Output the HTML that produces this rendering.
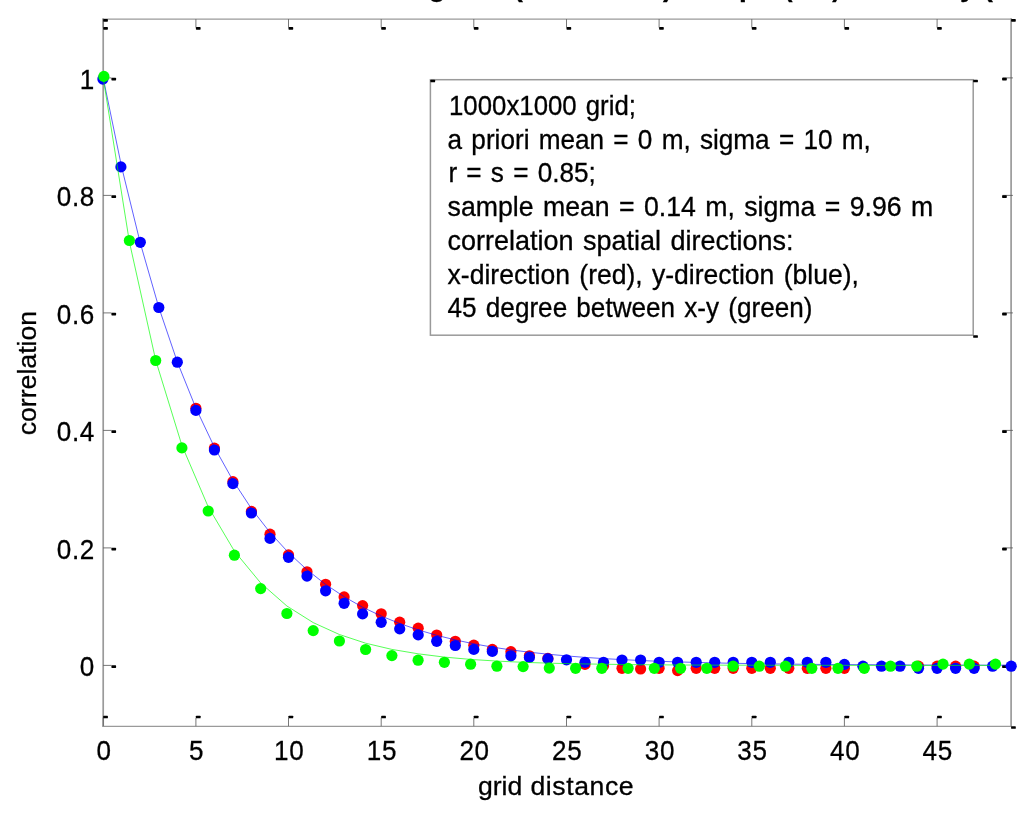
<!DOCTYPE html>
<html lang="en"><head><meta charset="utf-8"><title>correlation vs grid distance</title>
<style>html,body{margin:0;padding:0;background:#fff;}body{width:1024px;height:813px;overflow:hidden;position:relative;}svg{position:absolute;left:0;top:0;display:block;}text{font-family:"Liberation Sans",Arial,Helvetica,sans-serif;fill:#000;stroke:#000;stroke-width:0.3px;}.tk{font-size:28.5px;letter-spacing:0.75px;}.lb{font-size:25.9px;}.lg{font-size:26.8px;word-spacing:2px;}.tt{font-size:28px;font-weight:bold;}</style></head><body>
<svg width="1024" height="813" viewBox="0 0 1024 813">
<rect x="0" y="0" width="1024" height="813" fill="#fff"/>
<g class="tt">
<text x="41.1" y="-3.9">Correlation on the simulated grid</text>
<text x="513.6" y="-3.9">(1000x1000)</text>
<text x="682.9" y="-3.9">sample</text>
<text transform="translate(784 -3.9) scale(0.913 1)">(red)</text>
<text x="890" y="-3.9">theory</text>
<text x="983.6" y="-3.9">(blue)</text>
</g>
<g fill="none" stroke="#9a9a9a" stroke-linecap="square">
<line x1="103.2" y1="19.150000000000002" x2="1011.1" y2="19.150000000000002" stroke-width="1.35"/>
<line x1="103.2" y1="726.4000000000001" x2="1011.1" y2="726.4000000000001" stroke-width="1.35"/>
<line x1="103.2" y1="19.1" x2="103.2" y2="726.2" stroke-width="1.7"/>
<line x1="1011.1" y1="19.1" x2="1011.1" y2="726.2" stroke-width="1.7"/>
</g>
<g stroke="#555" stroke-width="0.8">
<line x1="103.2" y1="726.2" x2="103.2" y2="717.7"/>
<line x1="103.2" y1="19.1" x2="103.2" y2="27.6"/>
<line x1="195.9" y1="726.2" x2="195.9" y2="717.7"/>
<line x1="195.9" y1="19.1" x2="195.9" y2="27.6"/>
<line x1="288.5" y1="726.2" x2="288.5" y2="717.7"/>
<line x1="288.5" y1="19.1" x2="288.5" y2="27.6"/>
<line x1="381.2" y1="726.2" x2="381.2" y2="717.7"/>
<line x1="381.2" y1="19.1" x2="381.2" y2="27.6"/>
<line x1="473.8" y1="726.2" x2="473.8" y2="717.7"/>
<line x1="473.8" y1="19.1" x2="473.8" y2="27.6"/>
<line x1="566.5" y1="726.2" x2="566.5" y2="717.7"/>
<line x1="566.5" y1="19.1" x2="566.5" y2="27.6"/>
<line x1="659.1" y1="726.2" x2="659.1" y2="717.7"/>
<line x1="659.1" y1="19.1" x2="659.1" y2="27.6"/>
<line x1="751.8" y1="726.2" x2="751.8" y2="717.7"/>
<line x1="751.8" y1="19.1" x2="751.8" y2="27.6"/>
<line x1="844.4" y1="726.2" x2="844.4" y2="717.7"/>
<line x1="844.4" y1="19.1" x2="844.4" y2="27.6"/>
<line x1="937.1" y1="726.2" x2="937.1" y2="717.7"/>
<line x1="937.1" y1="19.1" x2="937.1" y2="27.6"/>
<line x1="103.2" y1="665.4" x2="111.5" y2="665.4"/>
<line x1="1012.9" y1="665.4" x2="1002.6" y2="665.4"/>
<line x1="103.2" y1="547.9" x2="111.5" y2="547.9"/>
<line x1="1012.9" y1="547.9" x2="1002.6" y2="547.9"/>
<line x1="103.2" y1="430.4" x2="111.5" y2="430.4"/>
<line x1="1012.9" y1="430.4" x2="1002.6" y2="430.4"/>
<line x1="103.2" y1="312.9" x2="111.5" y2="312.9"/>
<line x1="1012.9" y1="312.9" x2="1002.6" y2="312.9"/>
<line x1="103.2" y1="195.4" x2="111.5" y2="195.4"/>
<line x1="1012.9" y1="195.4" x2="1002.6" y2="195.4"/>
<line x1="103.2" y1="77.9" x2="111.5" y2="77.9"/>
<line x1="1012.9" y1="77.9" x2="1002.6" y2="77.9"/>
</g>
<g fill="#000">
<rect x="103.2" y="715.7" width="4.7" height="2.6" rx="0.6"/>
<rect x="103.2" y="27.1" width="4.7" height="2.6" rx="0.6"/>
<rect x="195.9" y="715.7" width="4.7" height="2.6" rx="0.6"/>
<rect x="195.9" y="27.1" width="4.7" height="2.6" rx="0.6"/>
<rect x="288.5" y="715.7" width="4.7" height="2.6" rx="0.6"/>
<rect x="288.5" y="27.1" width="4.7" height="2.6" rx="0.6"/>
<rect x="381.2" y="715.7" width="4.7" height="2.6" rx="0.6"/>
<rect x="381.2" y="27.1" width="4.7" height="2.6" rx="0.6"/>
<rect x="473.8" y="715.7" width="4.7" height="2.6" rx="0.6"/>
<rect x="473.8" y="27.1" width="4.7" height="2.6" rx="0.6"/>
<rect x="566.5" y="715.7" width="4.7" height="2.6" rx="0.6"/>
<rect x="566.5" y="27.1" width="4.7" height="2.6" rx="0.6"/>
<rect x="659.1" y="715.7" width="4.7" height="2.6" rx="0.6"/>
<rect x="659.1" y="27.1" width="4.7" height="2.6" rx="0.6"/>
<rect x="751.8" y="715.7" width="4.7" height="2.6" rx="0.6"/>
<rect x="751.8" y="27.1" width="4.7" height="2.6" rx="0.6"/>
<rect x="844.4" y="715.7" width="4.7" height="2.6" rx="0.6"/>
<rect x="844.4" y="27.1" width="4.7" height="2.6" rx="0.6"/>
<rect x="937.1" y="715.7" width="4.7" height="2.6" rx="0.6"/>
<rect x="937.1" y="27.1" width="4.7" height="2.6" rx="0.6"/>
<rect x="111.4" y="665.3" width="4.7" height="2.6" rx="0.6"/>
<rect x="1002.1" y="665.3" width="4.7" height="2.6" rx="0.6"/>
<rect x="111.4" y="547.8" width="4.7" height="2.6" rx="0.6"/>
<rect x="1002.1" y="547.8" width="4.7" height="2.6" rx="0.6"/>
<rect x="111.4" y="430.3" width="4.7" height="2.6" rx="0.6"/>
<rect x="1002.1" y="430.3" width="4.7" height="2.6" rx="0.6"/>
<rect x="111.4" y="312.8" width="4.7" height="2.6" rx="0.6"/>
<rect x="1002.1" y="312.8" width="4.7" height="2.6" rx="0.6"/>
<rect x="111.4" y="195.3" width="4.7" height="2.6" rx="0.6"/>
<rect x="1002.1" y="195.3" width="4.7" height="2.6" rx="0.6"/>
<rect x="111.4" y="77.8" width="4.7" height="2.6" rx="0.6"/>
<rect x="1002.1" y="77.8" width="4.7" height="2.6" rx="0.6"/>
<rect x="103.2" y="19.1" width="4.7" height="2.6" rx="0.6"/>
<rect x="1011.1" y="19.1" width="4.7" height="2.6" rx="0.6"/>
<rect x="1011.1" y="726.2" width="4.7" height="2.6" rx="0.6"/>
</g>
<g class="tk" text-anchor="middle">
<text transform="translate(104.0 760.4) scale(0.915 1)">0</text>
<text transform="translate(196.6 760.4) scale(0.915 1)">5</text>
<text transform="translate(289.2 760.4) scale(0.915 1)">10</text>
<text transform="translate(381.9 760.4) scale(0.915 1)">15</text>
<text transform="translate(474.6 760.4) scale(0.915 1)">20</text>
<text transform="translate(567.2 760.4) scale(0.915 1)">25</text>
<text transform="translate(659.9 760.4) scale(0.915 1)">30</text>
<text transform="translate(752.5 760.4) scale(0.915 1)">35</text>
<text transform="translate(845.2 760.4) scale(0.915 1)">40</text>
<text transform="translate(937.8 760.4) scale(0.915 1)">45</text>
</g>
<g class="tk" text-anchor="end">
<text transform="translate(95.0 676.0) scale(0.915 1)">0</text>
<text transform="translate(95.0 558.5) scale(0.915 1)">0.2</text>
<text transform="translate(95.0 441.0) scale(0.915 1)">0.4</text>
<text transform="translate(95.0 323.5) scale(0.915 1)">0.6</text>
<text transform="translate(95.0 206.0) scale(0.915 1)">0.8</text>
<text transform="translate(95.0 88.5) scale(0.915 1)">1</text>
</g>
<text class="lb" transform="translate(477.9 794.5) scale(1.028 1)" style="word-spacing:0.8px">grid <tspan style="letter-spacing:0.55px">distance</tspan></text>
<text class="lb" transform="translate(36.4 373.1) rotate(-90) scale(1.03 1)" text-anchor="middle">correlation</text>
<rect x="430.4" y="79.7" width="542.8" height="255.5" fill="#fff" stroke="#9a9a9a" stroke-width="1.5"/>
<g fill="#000">
<rect x="430.4" y="79.7" width="4.7" height="2.6" rx="0.6"/>
<rect x="973.2" y="79.7" width="4.7" height="2.6" rx="0.6"/>
<rect x="973.2" y="335.2" width="4.7" height="2.6" rx="0.6"/>
</g>
<g class="lg">
<text transform="translate(449.0 115.10) scale(0.9629 1)">1000x1000 grid;</text>
<text transform="translate(447.6 148.78) scale(0.9767 1)">a priori mean = 0 m, sigma = 10 m,</text>
<text transform="translate(448.4 182.46) scale(0.9768 1)">r = s = 0.85;</text>
<text transform="translate(447.6 216.14) scale(0.9955 1)">sample mean = 0.14 m, sigma = 9.96 m</text>
<text transform="translate(447.6 249.82) scale(1.0070 1)">correlation spatial directions:</text>
<text transform="translate(447.6 283.50) scale(0.9901 1)">x-direction (red), y-direction (blue),</text>
<text transform="translate(447.6 317.18) scale(0.9746 1)">45 degree between x-y (green)</text>
</g>
<g fill="#ff0000">
<circle cx="102.9" cy="79.1" r="4.699999999999999"/>
<circle cx="120.9" cy="166.9" r="4.699999999999999"/>
<circle cx="140.3" cy="242.3" r="4.699999999999999"/>
<circle cx="158.8" cy="307.5" r="4.699999999999999"/>
<circle cx="177.3" cy="362.2" r="4.699999999999999"/>
<circle cx="195.9" cy="408.3" r="5.6"/>
<circle cx="214.4" cy="448.1" r="5.6"/>
<circle cx="232.9" cy="481.7" r="5.6"/>
<circle cx="251.4" cy="511.4" r="5.6"/>
<circle cx="270.0" cy="534.2" r="5.6"/>
<circle cx="288.5" cy="554.9" r="5.6"/>
<circle cx="307.0" cy="571.8" r="5.6"/>
<circle cx="325.6" cy="584.3" r="5.6"/>
<circle cx="344.1" cy="596.9" r="5.6"/>
<circle cx="362.6" cy="605.6" r="5.6"/>
<circle cx="381.2" cy="613.8" r="5.6"/>
<circle cx="399.7" cy="622.2" r="5.6"/>
<circle cx="418.2" cy="628.2" r="5.6"/>
<circle cx="436.7" cy="635.0" r="5.6"/>
<circle cx="455.3" cy="641.3" r="5.6"/>
<circle cx="473.8" cy="645.2" r="5.6"/>
<circle cx="492.3" cy="649.4" r="5.6"/>
<circle cx="510.9" cy="651.7" r="5.6"/>
<circle cx="529.4" cy="655.8" r="5.6"/>
<circle cx="547.9" cy="658.4" r="5.6"/>
<circle cx="566.5" cy="659.8" r="4.699999999999999"/>
<circle cx="585.0" cy="664.4" r="5.6"/>
<circle cx="603.5" cy="665.9" r="5.6"/>
<circle cx="622.0" cy="668.3" r="5.6"/>
<circle cx="640.6" cy="669.0" r="5.6"/>
<circle cx="659.1" cy="668.3" r="5.6"/>
<circle cx="677.6" cy="670.6" r="5.6"/>
<circle cx="696.2" cy="668.3" r="5.6"/>
<circle cx="714.7" cy="668.3" r="5.6"/>
<circle cx="733.2" cy="668.3" r="5.6"/>
<circle cx="751.8" cy="668.3" r="5.6"/>
<circle cx="770.3" cy="668.3" r="5.6"/>
<circle cx="788.8" cy="668.3" r="5.6"/>
<circle cx="807.3" cy="668.3" r="5.6"/>
<circle cx="825.9" cy="668.3" r="5.6"/>
<circle cx="844.4" cy="668.3" r="5.6"/>
<circle cx="862.9" cy="666.2" r="4.699999999999999"/>
<circle cx="881.5" cy="666.2" r="4.699999999999999"/>
<circle cx="900.0" cy="666.2" r="4.699999999999999"/>
<circle cx="918.5" cy="666.2" r="5.6"/>
<circle cx="937.1" cy="666.2" r="5.6"/>
<circle cx="955.6" cy="666.2" r="5.6"/>
<circle cx="974.1" cy="666.2" r="5.6"/>
<circle cx="992.6" cy="666.2" r="4.699999999999999"/>
<circle cx="1011.2" cy="666.2" r="4.699999999999999"/>
</g>
<polyline fill="none" stroke="#0000ff" stroke-width="1" stroke-opacity="0.62" points="103.2,77.9 121.7,167.3 140.3,243.1 158.8,307.4 177.3,361.9 195.9,408.1 214.4,447.2 232.9,480.4 251.4,508.6 270.0,532.5 288.5,552.7 307.0,569.8 325.6,584.4 344.1,596.7 362.6,607.2 381.2,616.0 399.7,623.5 418.2,629.9 436.7,635.3 455.3,639.9 473.8,643.8 492.3,647.1 510.9,649.9 529.4,652.2 547.9,654.2 566.5,655.9 585.0,657.4 603.5,658.6 622.0,659.6 640.6,660.5 659.1,661.3 677.6,661.9 696.2,662.4 714.7,662.9 733.2,663.3 751.8,663.6 770.3,663.9 788.8,664.1 807.3,664.3 825.9,664.5 844.4,664.6 862.9,664.7 881.5,664.8 900.0,664.9 918.5,665.0 937.1,665.1 955.6,665.1 974.1,665.1 992.6,665.2 1011.2,665.2"/>
<g fill="#0000ff">
<circle cx="102.9" cy="79.1" r="5.6"/>
<circle cx="120.9" cy="166.9" r="5.6"/>
<circle cx="140.3" cy="242.3" r="5.6"/>
<circle cx="158.8" cy="307.5" r="5.6"/>
<circle cx="177.3" cy="362.2" r="5.6"/>
<circle cx="195.9" cy="410.4" r="5.6"/>
<circle cx="214.4" cy="450.0" r="5.6"/>
<circle cx="232.9" cy="483.6" r="5.6"/>
<circle cx="251.4" cy="513.0" r="5.6"/>
<circle cx="270.0" cy="538.4" r="5.6"/>
<circle cx="288.5" cy="557.3" r="5.6"/>
<circle cx="307.0" cy="576.1" r="5.6"/>
<circle cx="325.6" cy="590.8" r="5.6"/>
<circle cx="344.1" cy="603.3" r="5.6"/>
<circle cx="362.6" cy="613.9" r="5.6"/>
<circle cx="381.2" cy="622.3" r="5.6"/>
<circle cx="399.7" cy="628.9" r="5.6"/>
<circle cx="418.2" cy="634.9" r="5.6"/>
<circle cx="436.7" cy="641.3" r="5.6"/>
<circle cx="455.3" cy="645.5" r="5.6"/>
<circle cx="473.8" cy="649.4" r="5.6"/>
<circle cx="492.3" cy="651.4" r="5.6"/>
<circle cx="510.9" cy="655.8" r="5.6"/>
<circle cx="529.4" cy="657.4" r="5.6"/>
<circle cx="547.9" cy="658.9" r="5.6"/>
<circle cx="566.5" cy="659.8" r="5.6"/>
<circle cx="585.0" cy="662.3" r="5.6"/>
<circle cx="603.5" cy="662.3" r="5.6"/>
<circle cx="622.0" cy="660.0" r="5.6"/>
<circle cx="640.6" cy="660.0" r="5.6"/>
<circle cx="659.1" cy="662.3" r="5.6"/>
<circle cx="677.6" cy="662.3" r="5.6"/>
<circle cx="696.2" cy="662.3" r="5.6"/>
<circle cx="714.7" cy="662.3" r="5.6"/>
<circle cx="733.2" cy="662.3" r="5.6"/>
<circle cx="751.8" cy="662.3" r="5.6"/>
<circle cx="770.3" cy="662.3" r="5.6"/>
<circle cx="788.8" cy="662.3" r="5.6"/>
<circle cx="807.3" cy="662.3" r="5.6"/>
<circle cx="825.9" cy="662.3" r="5.6"/>
<circle cx="844.4" cy="664.4" r="5.6"/>
<circle cx="862.9" cy="666.2" r="5.6"/>
<circle cx="881.5" cy="666.2" r="5.6"/>
<circle cx="900.0" cy="666.2" r="5.6"/>
<circle cx="918.5" cy="668.3" r="5.6"/>
<circle cx="937.1" cy="668.3" r="5.6"/>
<circle cx="955.6" cy="668.3" r="5.6"/>
<circle cx="974.1" cy="668.3" r="5.6"/>
<circle cx="992.6" cy="666.2" r="5.6"/>
<circle cx="1011.2" cy="666.2" r="5.6"/>
</g>
<polyline fill="none" stroke="#00ff00" stroke-width="1" stroke-opacity="0.66" points="103.2,77.9 129.4,241.9 155.7,360.2 181.9,445.4 208.2,506.8 234.4,551.1 260.7,583.0 286.9,606.0 313.2,622.6 339.4,634.5 365.6,643.2 391.9,649.4 418.1,653.8 444.4,657.1 470.6,659.4 496.9,661.1 523.1,662.3 549.3,663.2 575.6,663.8 601.8,664.2 628.1,664.6 654.3,664.8 680.6,665.0 706.8,665.1 733.1,665.2 759.3,665.2 785.5,665.3 811.8,665.3 838.0,665.3 864.3,665.4 890.5,665.4 916.8,665.4 943.0,665.4 969.3,665.4 995.5,665.4"/>
<g fill="#00ff00">
<circle cx="103.9" cy="76.4" r="5.6"/>
<circle cx="129.4" cy="240.5" r="5.6"/>
<circle cx="155.7" cy="360.5" r="5.6"/>
<circle cx="181.9" cy="447.9" r="5.6"/>
<circle cx="208.2" cy="511.0" r="5.6"/>
<circle cx="234.4" cy="555.2" r="5.6"/>
<circle cx="260.7" cy="588.6" r="5.6"/>
<circle cx="286.9" cy="613.5" r="5.6"/>
<circle cx="313.2" cy="630.6" r="5.6"/>
<circle cx="339.4" cy="641.0" r="5.6"/>
<circle cx="365.6" cy="649.5" r="5.6"/>
<circle cx="391.9" cy="655.6" r="5.6"/>
<circle cx="418.1" cy="660.2" r="5.6"/>
<circle cx="444.4" cy="662.3" r="5.6"/>
<circle cx="470.6" cy="664.2" r="5.6"/>
<circle cx="496.9" cy="666.2" r="5.6"/>
<circle cx="523.1" cy="666.6" r="5.6"/>
<circle cx="549.3" cy="668.1" r="5.6"/>
<circle cx="575.6" cy="668.3" r="5.6"/>
<circle cx="601.8" cy="668.3" r="5.6"/>
<circle cx="628.1" cy="668.3" r="5.6"/>
<circle cx="654.3" cy="668.3" r="5.6"/>
<circle cx="680.6" cy="668.3" r="5.6"/>
<circle cx="706.8" cy="668.3" r="5.6"/>
<circle cx="733.1" cy="666.2" r="5.6"/>
<circle cx="759.3" cy="666.2" r="5.6"/>
<circle cx="785.5" cy="666.2" r="5.6"/>
<circle cx="811.8" cy="668.3" r="5.6"/>
<circle cx="838.0" cy="668.3" r="5.6"/>
<circle cx="864.3" cy="668.3" r="5.6"/>
<circle cx="890.5" cy="666.2" r="5.6"/>
<circle cx="916.8" cy="666.2" r="5.6"/>
<circle cx="943.0" cy="664.1" r="5.6"/>
<circle cx="969.3" cy="664.1" r="5.6"/>
<circle cx="995.5" cy="664.1" r="5.6"/>
</g>
</svg>
</body></html>
